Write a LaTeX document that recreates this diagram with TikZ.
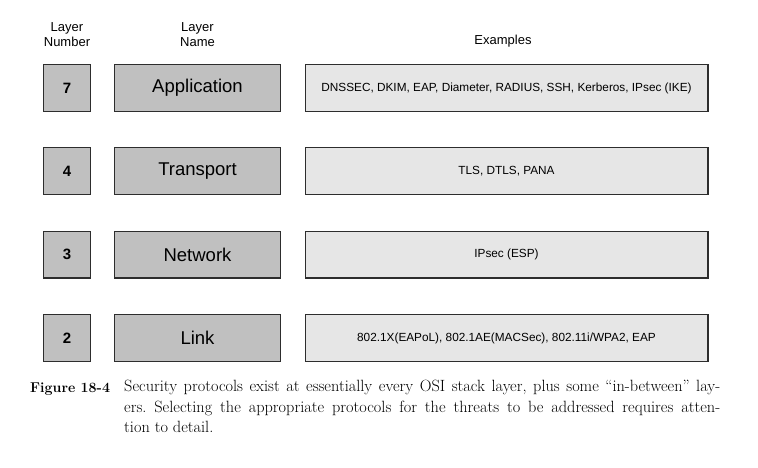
\documentclass[tikz,border=0pt]{standalone}
\usepackage{fontspec}
\setsansfont{Liberation Sans}
\usepackage{tikz}
\definecolor{layergray}{RGB}{192,192,192}
\definecolor{examplegray}{RGB}{230,230,230}
\definecolor{edgegray}{RGB}{45,45,45}

\begin{document}
\frenchspacing
\begin{tikzpicture}[x=1pt, y=-1pt,
    numbox/.style={draw=edgegray, line width=1.4pt, fill=layergray, minimum width=46.6pt, minimum height=46.6pt, inner sep=0pt, font=\sffamily\bfseries\fontsize{15}{17}\selectfont},
    namebox/.style={draw=edgegray, line width=1.4pt, fill=layergray, minimum width=165.6pt, minimum height=46.6pt, inner sep=0pt, font=\sffamily\fontsize{18.5}{21}\selectfont},
    exbox/.style={draw=edgegray, line width=1.4pt, fill=examplegray, minimum width=402.6pt, minimum height=46.6pt, inner sep=0pt, font=\sffamily\fontsize{11.8}{14}\selectfont},
    header/.style={align=center, inner sep=0pt, font=\sffamily\fontsize{13}{15.5}\selectfont}]
    \useasboundingbox (0,0) rectangle (758,468);

    % column headers
    \node[header] (hnum) at (67,34.5) {Layer\\Number};
    \node[header] (hname) at (197.5,34.5) {Layer\\Name};
    \node[header] (hex) at (503,41) {Examples};

    % layer 7
    \node[numbox] (num7) at (67,88) {7};
    \node[namebox] (name7) at (197.5,88) {Application};
    \node[exbox] (ex7) at (506.5,88) {DNSSEC, DKIM, EAP, Diameter, RADIUS, SSH, Kerberos, IPsec (IKE)};

    % layer 4
    \node[numbox] (num4) at (67,171) {4};
    \node[namebox] (name4) at (197.5,171) {Transport};
    \node[exbox] (ex4) at (506.5,171) {TLS, DTLS, PANA};

    % layer 3
    \node[numbox] (num3) at (67,254.5) {3};
    \node[namebox] (name3) at (197.5,254.5) {Network};
    \node[exbox] (ex3) at (506.5,254.5) {IPsec (ESP)};

    % layer 2
    \node[numbox] (num2) at (67,338) {2};
    \node[namebox] (name2) at (197.5,338) {Link};
    \node[exbox] (ex2) at (506.5,338) {802.1X(EAPoL), 802.1AE(MACSec), 802.11i/WPA2, EAP};

    % caption
    \node[anchor=base west, inner sep=0pt, font=\fontsize{14.2}{20.5}\selectfont\bfseries] (figlabel) at (30,392) {Figure 18-4};
    \node[anchor=north west, inner sep=0pt, text width=596pt, align=justify, font=\fontsize{16.3}{20.5}\selectfont] (figtext) at (124,380) {Security protocols exist at essentially every OSI stack layer, plus some ``in-between'' lay-\linebreak ers. Selecting the appropriate protocols for the threats to be addressed requires atten-\linebreak tion to detail.};
\end{tikzpicture}
\end{document}
